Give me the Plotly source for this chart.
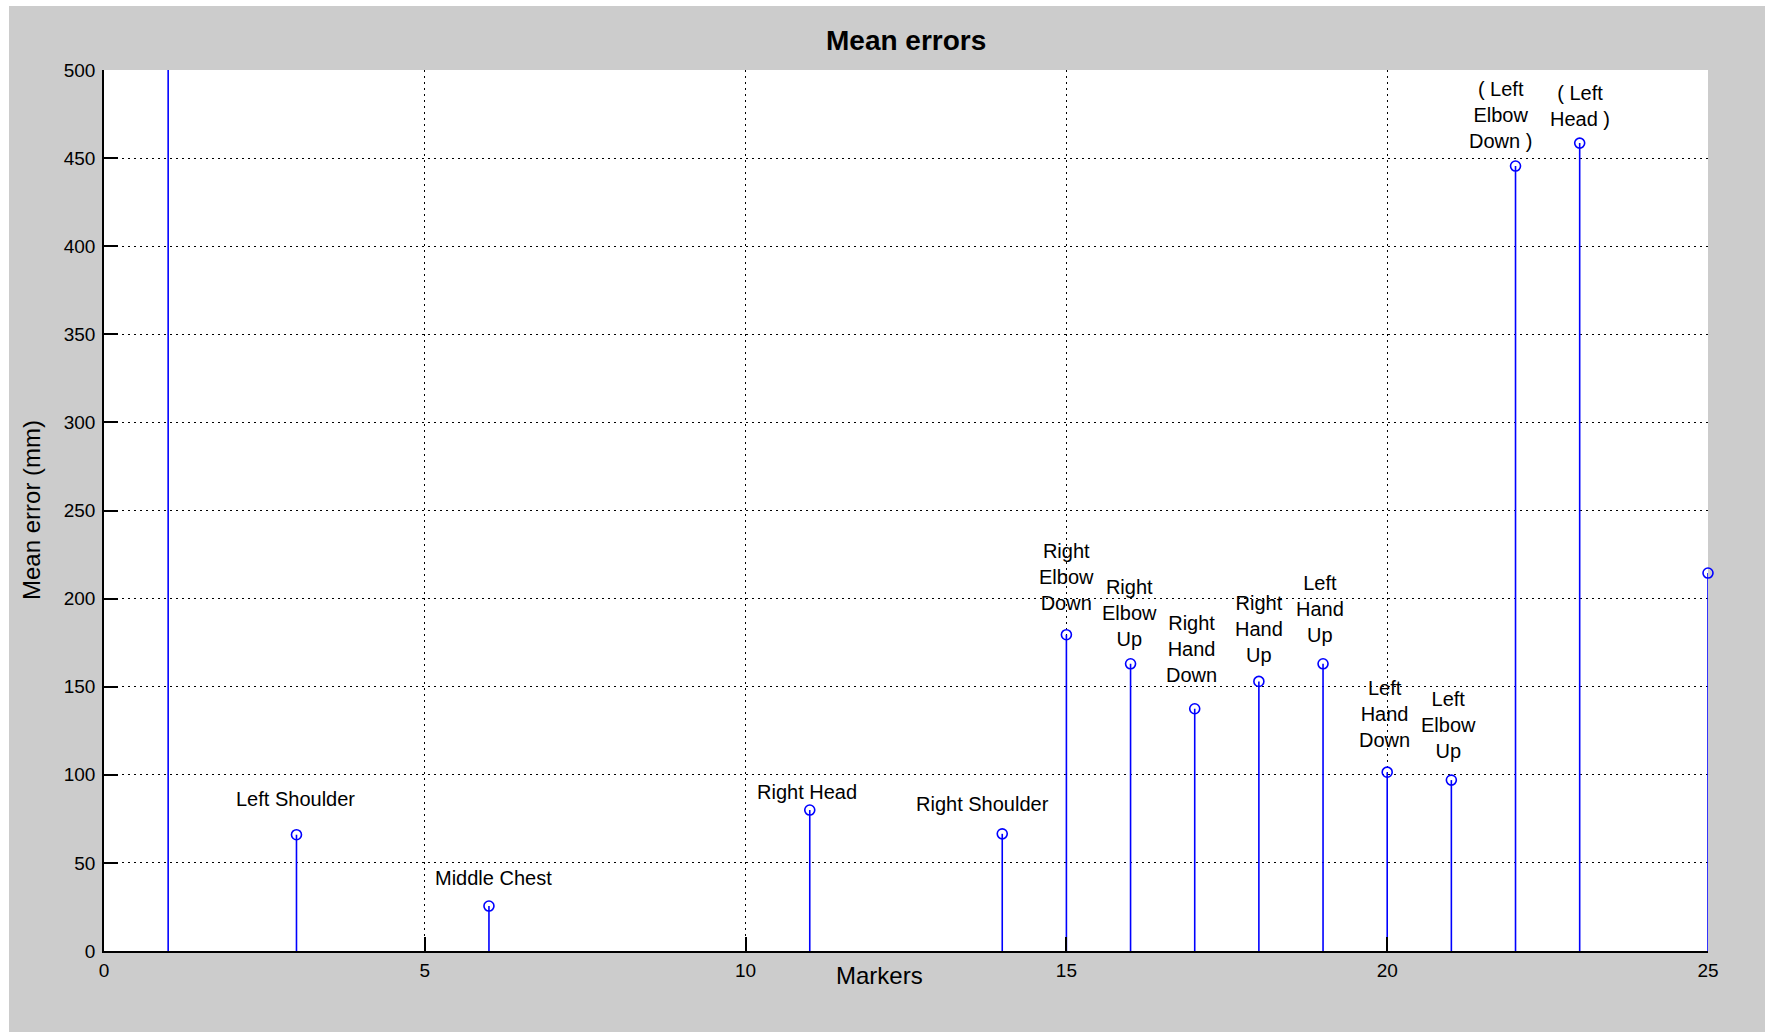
import plotly.graph_objects as go

# Marker indices and their mean errors (mm)
markers = [1, 3, 6, 11, 14, 15, 16, 17, 18, 19, 20, 21, 22, 23, 25]
mean_err = [620, 66, 25.5, 80, 66.5, 179.5, 163, 137.5, 153, 163, 101.5, 97, 445.5, 458.5, 214.5]

# Text labels for the stems (empty = no label)
labels = ["", "Left Shoulder", "Middle Chest", "Right Head", "Right Shoulder",
          "Right<br>Elbow<br>Down", "Right<br>Elbow<br>Up", "Right<br>Hand<br>Down",
          "Right<br>Hand<br>Up", "Left<br>Hand<br>Up", "Left<br>Hand<br>Down",
          "Left<br>Elbow<br>Up", "( Left<br>Elbow<br>Down )", "( Left<br>Head )", ""]
# label placement relative to the stem tip (x units, mm)
label_dx = [0, -0.02, 0.07, -0.04, -0.3, 0, -0.02, -0.05, 0, -0.04, -0.04, -0.04, -0.23, 0, 0]
label_dy = [0, 20, 16, 10, 17, 33, 29, 34, 30, 31, 33, 31, 29, 21, 0]

x_ticks = [0, 5, 10, 15, 20, 25]
y_ticks = list(range(0, 501, 50))
Y_MAX = 500

BLUE = "#0000FF"
FONT = "Liberation Sans"

# stems drawn as one broken line
stem_x, stem_y = [], []
for xv, yv in zip(markers, mean_err):
    stem_x += [xv, xv, None]
    stem_y += [0, yv, None]

# tips above the visible range are not drawn; the others may sit on the frame edge
tip_y = [yv if yv <= Y_MAX else None for yv in mean_err]

fig = go.Figure()
fig.add_trace(go.Scatter(x=stem_x, y=stem_y, mode="lines",
                         line=dict(color=BLUE, width=1.6), hoverinfo="skip",
                         showlegend=False))
fig.add_trace(go.Scatter(x=markers, y=tip_y, mode="markers", cliponaxis=False,
                         marker=dict(symbol="circle-open", size=10,
                                     color=BLUE, line=dict(color=BLUE, width=1.6)),
                         showlegend=False))

annotations = []
for xv, yv, lab, dx, dy in zip(markers, mean_err, labels, label_dx, label_dy):
    if not lab:
        continue
    annotations.append(dict(x=xv + dx, y=yv + dy, xref="x", yref="y", text=lab,
                            showarrow=False, xanchor="center", yanchor="middle",
                            font=dict(family=FONT, size=20, color="black")))

W, H = 1765, 1032
ML, MR, MT, MB = 104, 57, 70, 81
PW, PH = W - ML - MR, H - MT - MB


def px_x(p):
    return (p - ML) / PW


def px_y(p):
    return (H - MB - p) / PH


annotations += [
    dict(text="<b>Mean errors</b>", x=0.5, y=px_y(40), xref="paper", yref="paper",
         showarrow=False, xanchor="center", yanchor="middle",
         font=dict(family=FONT, size=28, color="black")),
    dict(text="Markers", x=px_x(879), y=px_y(975), xref="paper", yref="paper",
         showarrow=False, xanchor="center", yanchor="middle",
         font=dict(family=FONT, size=24, color="black")),
    dict(text="Mean error (mm)", x=px_x(31), y=px_y(510), xref="paper", yref="paper",
         showarrow=False, xanchor="center", yanchor="middle", textangle=-90,
         font=dict(family=FONT, size=24, color="black")),
]

axis_common = dict(showline=True, linecolor="black", linewidth=1.5, mirror=False,
                   ticks="inside", ticklen=14, tickwidth=1.5, tickcolor="black",
                   showgrid=True, gridcolor="black", gridwidth=1, griddash="1.5px,4.5px",
                   zeroline=False, tickfont=dict(family=FONT, size=19, color="black"))

fig.update_layout(
    width=W, height=H,
    margin=dict(l=ML, r=MR, t=MT, b=MB),
    paper_bgcolor="#CCCCCC", plot_bgcolor="white",
    xaxis=dict(range=[0, 25], tickvals=x_ticks, ticklabelstandoff=1, **axis_common),
    yaxis=dict(range=[0, Y_MAX], tickvals=y_ticks, ticklabelstandoff=3, **axis_common),
    annotations=annotations,
    shapes=[
        dict(type="rect", xref="paper", yref="paper", x0=px_x(0), x1=px_x(9),
             y0=px_y(H), y1=px_y(0), fillcolor="white", line=dict(width=0)),
        dict(type="rect", xref="paper", yref="paper", x0=px_x(0), x1=px_x(W),
             y0=px_y(6), y1=px_y(0), fillcolor="white", line=dict(width=0)),
    ],
    showlegend=False,
)

fig.write_html("out.html")
